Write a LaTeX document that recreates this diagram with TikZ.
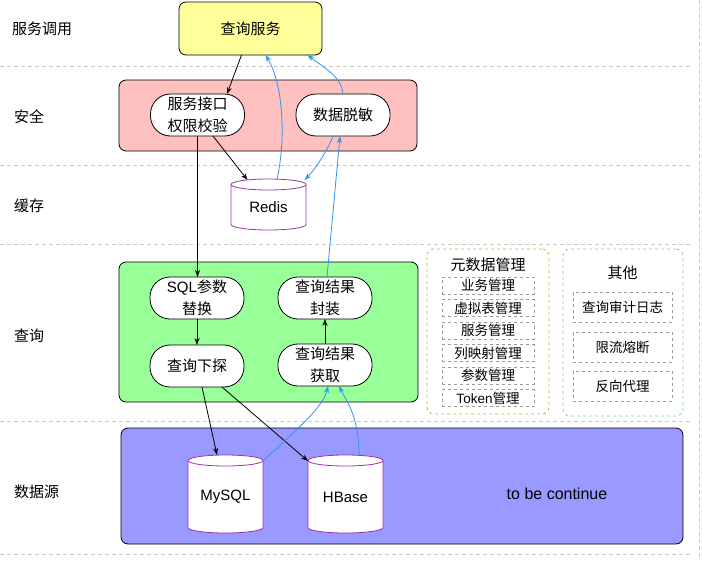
\documentclass[tikz,border=0pt]{standalone}
\usepackage{fontspec}
\setmainfont{Noto Sans CJK SC}
\newfontfamily\lat{Liberation Sans}
\usetikzlibrary{arrows.meta}
\definecolor{divgray}{HTML}{C8C8C8}
\definecolor{subgray}{HTML}{9A9A9A}
\definecolor{yellowfill}{HTML}{FFFF99}
\definecolor{pinkfill}{HTML}{FFC0C0}
\definecolor{greenfill}{HTML}{99FF99}
\definecolor{bluefill}{HTML}{9999FF}
\definecolor{cylpurple}{HTML}{9933AA}
\definecolor{arrowblue}{HTML}{2E97F5}
\definecolor{metaorange}{HTML}{F0A030}
\definecolor{otherblue}{HTML}{80C6E6}
\newcommand\fsMain{\fontsize{15}{22}\selectfont}
\newcommand\fsSub{\fontsize{13.5}{16}\selectfont}
\newcommand\fsTbc{\fontsize{16}{20}\selectfont}
\newcommand\drawcyl[1]{%
  \filldraw[cylpurple,fill=white,line width=0.8pt]
    ([yshift=-5.5pt]#1.north west) -- ([yshift=5.5pt]#1.south west)
    arc[start angle=180,end angle=360,x radius=37.5pt,y radius=5.5pt]
    -- ([yshift=-5.5pt]#1.north east)
    arc[start angle=0,end angle=180,x radius=37.5pt,y radius=5.5pt] -- cycle;
  \draw[cylpurple,line width=0.8pt] ([yshift=-5.5pt]#1.north west)
    arc[start angle=180,end angle=360,x radius=37.5pt,y radius=5.5pt];
}
\begin{document}
\begin{tikzpicture}[x=1pt,y=-1pt,
  divider/.style={divgray,line width=0.9pt,dash pattern=on 4pt off 3pt},
  lane/.style={anchor=west,font=\fsMain,inner sep=0pt},
  bigbox/.style={draw,line width=0.8pt,rounded corners=7pt,inner sep=0pt,outer sep=0pt},
  pill/.style={draw,fill=white,line width=0.8pt,rounded corners=20pt,minimum width=94pt,
    minimum height=42pt,align=center,inner sep=0pt,outer sep=0pt,font=\fsMain},
  cyl/.style={minimum width=75pt,inner sep=0pt,outer sep=0pt,font=\fsMain\lat},
  subbox/.style={draw=subgray,dashed,line width=0.7pt,minimum width=92pt,minimum height=17pt,
    inner sep=0pt,outer sep=0pt,font=\fsSub},
  otherbox/.style={draw=subgray,dashed,line width=0.7pt,minimum width=99pt,minimum height=30pt,
    inner sep=0pt,outer sep=0pt,font=\fsSub},
  blk/.style={-{Stealth[length=7pt,width=5pt]},line width=0.8pt,black},
  blu/.style={-{Stealth[length=7pt,width=5pt]},line width=0.8pt,arrowblue}]
\useasboundingbox (0,0) rectangle (702,565);
\fill[white] (0,0) rectangle (702,565);
% dividers
\foreach \yy in {66,165,244,421,554} \draw[divider] (0,\yy) -- (692,\yy);
\draw[divider] (699,0) -- (699,560);
% lane labels
\node[lane] (l1) at (12,29) {服务调用};
\node[lane] (l2) at (14,117) {安全};
\node[lane] (l3) at (14,206) {缓存};
\node[lane] (l4) at (14,336) {查询};
\node[lane] (l5) at (14,492) {数据源};
% top
\node[bigbox,fill=yellowfill,minimum width=143pt,minimum height=53pt,font=\fsMain] (top) at (250.5,28.5) {查询服务};
% security
\node[bigbox,fill=pinkfill,minimum width=298pt,minimum height=71pt] (secbox) at (268,115.5) {};
\node[pill] (auth) at (197.5,115) {服务接口\\权限校验};
\node[pill] (mask) at (343,115) {数据脱敏};
% cache
\node[cyl,minimum height=51pt] (redis) at (268.5,204.5) {};
\drawcyl{redis}
\node[font=\fsMain\lat] at (268.5,207) {Redis};
% query
\node[bigbox,fill=greenfill,minimum width=299pt,minimum height=140pt] (qbox) at (268.5,332) {};
\node[pill] (sql) at (197,298) {{\lat SQL}参数\\替换};
\node[pill] (wrap) at (325,298) {查询结果\\封装};
\node[pill] (probe) at (197,366) {查询下探};
\node[pill] (fetch) at (325,365) {查询结果\\获取};
% metadata
\node[draw=metaorange,dashed,line width=0.8pt,rounded corners=7pt,minimum width=122pt,minimum height=165pt,inner sep=0pt] (meta) at (488,331.5) {};
\node[font=\fsMain,inner sep=0pt] (metat) at (488,265) {元数据管理};
\node[subbox] (m1) at (488,285.5) {业务管理};
\node[subbox] (m2) at (488,308) {虚拟表管理};
\node[subbox] (m3) at (488,330.5) {服务管理};
\node[subbox] (m4) at (488,353) {列映射管理};
\node[subbox] (m5) at (488,375.5) {参数管理};
\node[subbox] (m6) at (488,398) {{\lat Token}管理};
% other
\node[draw=otherblue,dashed,line width=0.8pt,rounded corners=7pt,minimum width=120pt,minimum height=167pt,inner sep=0pt] (other) at (623,332.5) {};
\node[font=\fsMain,inner sep=0pt] (othert) at (622.5,273) {其他};
\node[otherbox] (o1) at (622.5,307) {查询审计日志};
\node[otherbox] (o2) at (622.5,347) {限流熔断};
\node[otherbox] (o3) at (622.5,386) {反向代理};
% data sources
\node[bigbox,fill=bluefill,minimum width=562pt,minimum height=116pt] (dsbox) at (402,486) {};
\node[cyl,minimum height=78pt] (mysql) at (225.5,494) {};
\drawcyl{mysql}
\node[font=\fsMain\lat] at (225.5,497) {MySQL};
\node[cyl,minimum height=78pt] (hbase) at (345.5,494) {};
\drawcyl{hbase}
\node[font=\fsMain\lat] at (345.5,497) {HBase};
\node[font=\fsTbc\lat] (tbc) at (557,494) {to be continue};
% black arrows
\draw[blk] ([xshift=-9pt]top.south) -- ([xshift=29.5pt]auth.north);
\draw[blk] ([xshift=15.5pt]auth.south) -- ([xshift=-21pt,yshift=-1pt]redis.north);
\draw[blk] (auth.south) -- ([xshift=0.5pt]sql.north);
\draw[blk] (sql.south) -- (probe.north);
\draw[blk] (fetch.north) -- (wrap.south);
\draw[blk] ([xshift=5pt]probe.south) -- ([xshift=-8.5pt]mysql.north);
\draw[blk] ([xshift=25pt]probe.south) -- ([yshift=-6pt]hbase.north west);
% blue arrows
\draw[blu] ([xshift=8.5pt]redis.north) .. controls +(9,-39) and +(18,30) .. ([xshift=15pt]top.south);
\draw[blu] (mask.north) .. controls +(-2,-18) and +(18,14) .. ([xshift=57pt]top.south);
\draw[blu] ([xshift=-10pt]mask.south) .. controls +(-5,14) and +(10,-10) .. ([xshift=36pt,yshift=-1pt]redis.north);
\draw[blu] ([xshift=2pt]wrap.north) -- ([xshift=-3pt]mask.south);
\draw[blu] ([yshift=-6pt]mysql.north east) .. controls +(30,-28) and +(-5,22) .. ([xshift=3pt]fetch.south);
\draw[blu] ([xshift=13.5pt]hbase.north) .. controls +(0,-38) and +(8,16) .. ([xshift=14pt]fetch.south);
\end{tikzpicture}
\end{document}
